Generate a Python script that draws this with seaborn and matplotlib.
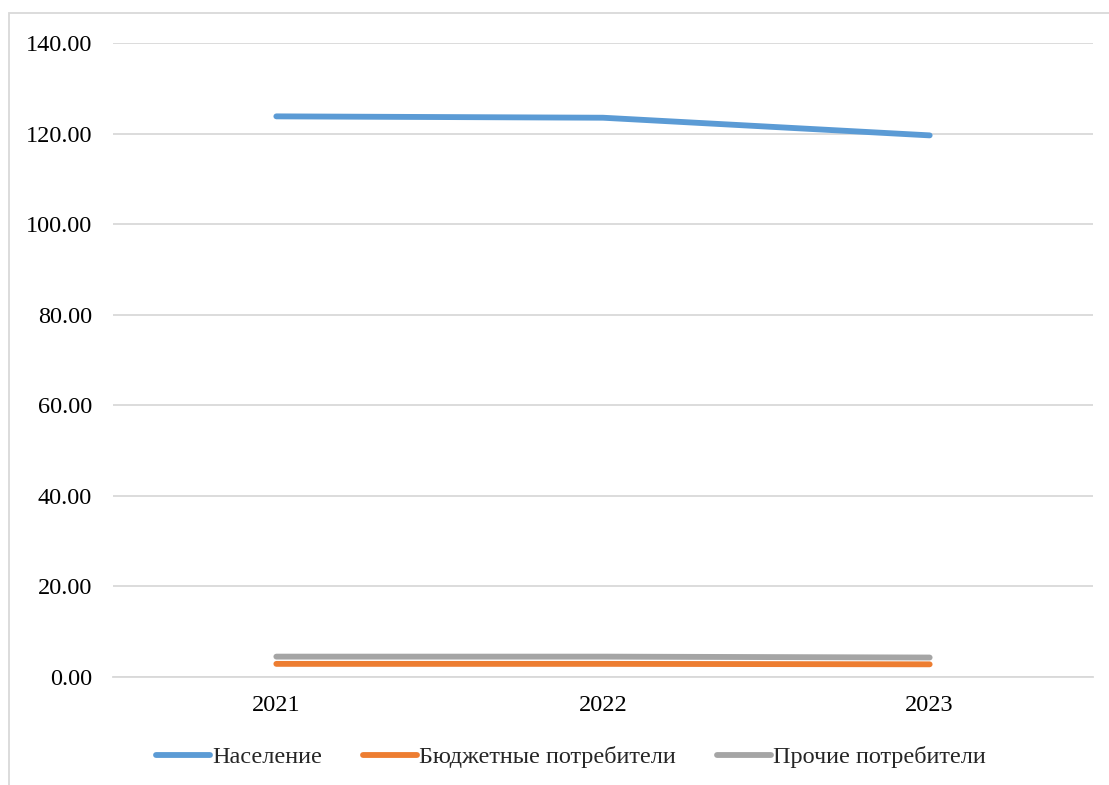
import matplotlib
matplotlib.use("Agg")
import matplotlib.pyplot as plt
import seaborn as sns
import pandas as pd
from matplotlib.patches import Rectangle

years = ["2021", "2022", "2023"]
naselenie = [123.8, 123.5, 119.6]
budget = [2.9, 2.9, 2.8]
prochie = [4.5, 4.5, 4.3]
series_names = ["Население", "Бюджетные потребители", "Прочие потребители"]
colors = ["#5b9bd5", "#ed7d31", "#a5a5a5"]

rows = []
for name, vals in zip(series_names, [naselenie, budget, prochie]):
    for i, (y, v) in enumerate(zip(years, vals)):
        rows.append({"idx": i, "year": y, "value": v, "series": name})
df = pd.DataFrame(rows)

sns.set_theme(style="white")
plt.rcParams['font.family'] = ['Liberation Serif', 'DejaVu Serif']

fig = plt.figure(figsize=(11.09, 7.85), dpi=100)
ax = fig.add_axes([113/1109, 1-677/785, 980/1109, 634/785])

sns.lineplot(data=df, x="idx", y="value", hue="series", hue_order=series_names,
             palette=colors, linewidth=4.2, ax=ax, legend=False,
             solid_capstyle="round")

fs = 17.5
ax.set_xlim(-0.5, 2.5)
ax.set_ylim(0, 140)
ax.set_yticks(range(0, 141, 20))
ax.set_yticklabels([f"{v:.2f}" for v in range(0, 141, 20)], fontsize=fs)
ax.set_xticks(range(len(years)))
ax.set_xticklabels(years, fontsize=fs)
ax.grid(axis="y", color="#d9d9d9", linewidth=1.3)
ax.grid(axis="x", visible=False)
for s in ["top", "right", "left"]:
    ax.spines[s].set_visible(False)
ax.spines["bottom"].set_color("#d9d9d9")
ax.spines["bottom"].set_linewidth(1.3)
ax.tick_params(axis="both", length=0, colors="black")
ax.tick_params(axis="y", pad=15)
ax.tick_params(axis="x", pad=13)
ax.set_xlabel("")
ax.set_ylabel("")

handles = [plt.Line2D([], [], color=c, linewidth=4.2, solid_capstyle="round") for c in colors]
fig.legend(handles, series_names, loc="center", bbox_to_anchor=(0.515, 1-757/785),
           ncol=3, frameon=False, fontsize=fs, handlelength=2.2, handletextpad=0.1,
           columnspacing=1.7)

fig.patches.append(Rectangle((9/1109, -0.1), 1.2, 1-13/785+0.1, transform=fig.transFigure,
                             fill=False, edgecolor="#d9d9d9", linewidth=1.3))

fig.savefig("out.png", dpi=100)
